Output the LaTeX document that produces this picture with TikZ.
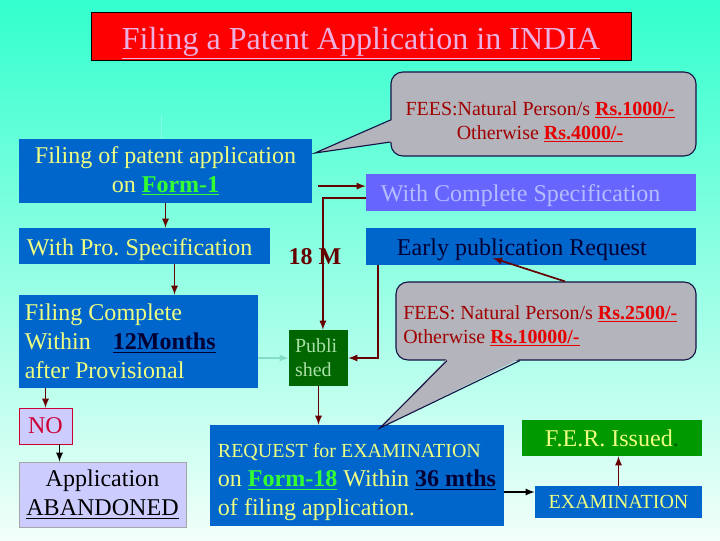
\documentclass[tikz,border=0pt]{standalone}
\usepackage{fontspec}
\setmainfont{Liberation Serif}
\frenchspacing

\definecolor{bgtop}{RGB}{50,255,205}
\definecolor{bgbot}{RGB}{242,255,250}
\definecolor{titlered}{RGB}{255,0,0}
\definecolor{titlepink}{RGB}{236,176,224}
\definecolor{boxblue}{RGB}{0,102,204}
\definecolor{txtyellow}{RGB}{238,255,130}
\definecolor{formgreen}{RGB}{51,255,51}
\definecolor{darknavy}{RGB}{0,0,51}
\definecolor{specblue}{RGB}{102,102,255}
\definecolor{specgray}{RGB}{180,188,255}
\definecolor{calgray}{RGB}{180,180,188}
\definecolor{calline}{RGB}{20,20,70}
\definecolor{feered}{RGB}{160,0,0}
\definecolor{rsred}{RGB}{230,0,0}
\definecolor{arrowred}{RGB}{102,0,0}
\definecolor{pubgreen}{RGB}{0,102,0}
\definecolor{publight}{RGB}{168,224,168}
\definecolor{lilac}{RGB}{204,204,255}
\definecolor{noborder}{RGB}{204,0,51}
\definecolor{fergreen}{RGB}{0,153,0}
\definecolor{aqualine}{RGB}{130,222,200}

\newcommand{\txttitle}{\fontsize{22.8}{27}\selectfont}
\newcommand{\txtmain}{\fontsize{17.1}{20.6}\selectfont}
\newcommand{\txtsmall}{\fontsize{14.2}{17}\selectfont}
\newcommand{\greenform}[1]{\textcolor{formgreen}{\textbf{\underline{#1}}}}
\newcommand{\navybold}[1]{\textcolor{darknavy}{\textbf{\underline{#1}}}}
\newcommand{\rupees}[1]{\textcolor{rsred}{\textbf{\underline{#1}}}}

\tikzset{
  box/.style={fill=boxblue, text=txtyellow, inner sep=0pt, font=\txtmain},
  oneline/.style={text height=0.55cm, text depth=0.1cm},
  arr/.style={arrowred, line width=1.2pt, -latex},
  callout/.style={fill=calgray, draw=calline, line width=0.8pt, rounded corners=0.3cm, inner sep=0pt},
  feetext/.style={text=feered, font=\txtsmall, inner sep=0pt}
}

\begin{document}
\begin{tikzpicture}[x=0.025cm,y=-0.025cm]
  \shade[top color=bgtop,bottom color=bgbot] (0,0) rectangle (720,540);

  \node[draw=black, fill=titlered, text=titlepink, font=\txttitle, inner sep=0pt,
    text height=0.75cm, text depth=0.1cm,
    minimum width=13.5cm, minimum height=1.2cm] (title) at (361,36)
    {\underline{Filing a Patent Application in INDIA}};

  % left column
  \node[box, minimum width=7.325cm, minimum height=1.6cm, align=center] (filing) at (165.5,171)
    {Filing of patent application\\on \greenform{Form-1}};
  \draw[bgtop!60!white, line width=0.8pt] ([xshift=-0.1cm]filing.north) -- ++(0,-24);
  \node[box, oneline, text width=5.875cm, inner xsep=0.2cm, minimum height=0.9cm, align=flush left] (prospec) at (144.5,246)
    {With Pro. Specification};
  \node[box, text width=5.675cm, inner xsep=0.15cm, minimum height=2.325cm, align=flush left] (filcomplete) at (138.5,341.5)
    {Filing Complete\\Within\hspace{0.55cm}\navybold{12Months}\\after Provisional};
  \node[draw=noborder, fill=lilac, text=noborder, font=\txtmain, inner sep=0pt,
    minimum width=1.325cm, minimum height=0.9cm] (no) at (45.5,426) {NO};
  \node[draw=gray!70, fill=lilac, text=black, font=\txtmain, inner sep=0pt, align=center,
    minimum width=4.175cm, minimum height=1.625cm] (abandoned) at (102.5,494.5)
    {Application\\\underline{ABANDONED}};

  % middle
  \node[font=\bfseries\txtmain, text=arrowred] (eighteen) at (315,257) {18 M};
  \node[box, fill=pubgreen, text=publight, font=\txtsmall, text width=1.175cm, inner xsep=0.15cm,
    minimum height=1.4cm, align=flush left] (published) at (318.5,358) {Publi\\shed};
  \node[box, text width=6.95cm, inner xsep=0.2cm, minimum height=2.525cm, text height=0.7cm,
    align=flush left] (request) at (357,475.5)
    {{\txtsmall REQUEST for EXAMINATION}\\on \greenform{Form-18} Within \navybold{36 mths}\\of filing application.};

  % right column
  \node[box, oneline, fill=specblue, text=specgray, text width=7.5cm, inner xsep=0.375cm,
    minimum height=0.925cm, align=flush left] (complete) at (531,192.5) {With Complete Specification};
  \node[box, oneline, text=darknavy, text width=6.7cm, inner xsep=0.775cm,
    minimum height=0.925cm, align=flush left] (early) at (531,246.5) {Early publication Request};
  \node[box, fill=fergreen, minimum width=4.5cm, minimum height=0.9cm] (fer) at (612,438)
    {F.E.R. Issued\textcolor{fergreen!60!black}{.}};
  \node[box, font=\txtsmall, minimum width=4.175cm, minimum height=0.8cm] (exam) at (618.5,502) {EXAMINATION};

  % fee callouts
  \node[callout, minimum width=7.625cm, minimum height=2.1cm] (feesone) at (543.5,114) {};
  \coordinate (tipone) at (315,153);
  \fill[calgray] ([xshift=0.05cm,yshift=-0.15cm]feesone.west) -- (tipone)
    -- ([xshift=0.05cm,yshift=-0.7cm]feesone.west) -- cycle;
  \draw[calline, line width=0.8pt] ([yshift=-0.15cm]feesone.west) -- (tipone) -- ([yshift=-0.7cm]feesone.west);
  \node[feetext, align=center] (feesonetext) at (540,122)
    {FEES:Natural Person/s \rupees{Rs.1000/-}\\Otherwise \rupees{Rs.4000/-}};

  \node[callout, minimum width=7.5cm, minimum height=1.95cm] (feestwo) at (546,321) {};
  \coordinate (tiptwo) at (380,428);
  \fill[calgray] ([xshift=-2.475cm,yshift=0.05cm]feestwo.south) -- (tiptwo)
    -- ([xshift=-0.65cm,yshift=0.05cm]feestwo.south) -- cycle;
  \draw[calline, line width=0.8pt] ([xshift=-2.475cm]feestwo.south) -- (tiptwo) -- ([xshift=-0.65cm]feestwo.south);
  \node[feetext, align=flush left, anchor=west] (feestwotext) at (403,326)
    {FEES: Natural Person/s \rupees{Rs.2500/-}\\Otherwise \rupees{Rs.10000/-}};

  % connectors
  \draw[arr] (filing.south) -- (filing.south |- prospec.north);
  \coordinate (psout) at ([xshift=0.75cm]prospec.south);
  \draw[arr] (psout) -- (psout |- filcomplete.north);
  \draw[arr] (no.north |- filcomplete.south) -- (no.north);
  \coordinate (noout) at ([xshift=0.35cm]no.south);
  \draw[arr,black] (noout) -- (noout |- abandoned.north);
  \draw[arr,aqualine] (filcomplete.east |- published.west) -- (published.west);

  \coordinate (cin) at ([yshift=0.16cm]complete.west);
  \coordinate (cout) at ([yshift=-0.14cm]complete.west);
  \coordinate (fout) at ([xshift=0.15cm]filing.east);
  \coordinate (pin) at ([xshift=0.11cm]published.north);
  \draw[arr] (fout |- cin) -- (cin);
  \draw[arr] (cout) -| (pin);
  \coordinate (eout) at ([xshift=0.3cm]early.south west);
  \draw[arr] (eout) |- (published.east);
  \draw[arr] (published.south) -- (published.south |- request.north);

  \coordinate (xin) at ([yshift=0.25cm]exam.west);
  \draw[arr,black] (request.east |- xin) -- (xin);
  \draw[arr] (exam.north) -- (exam.north |- fer.south);
  \coordinate (ftop) at ([xshift=0.475cm]feestwo.north);
  \coordinate (etext) at ([xshift=-0.95cm,yshift=-0.29cm]early.center);
  \draw[arr] (ftop) -- (etext);
\end{tikzpicture}
\end{document}
